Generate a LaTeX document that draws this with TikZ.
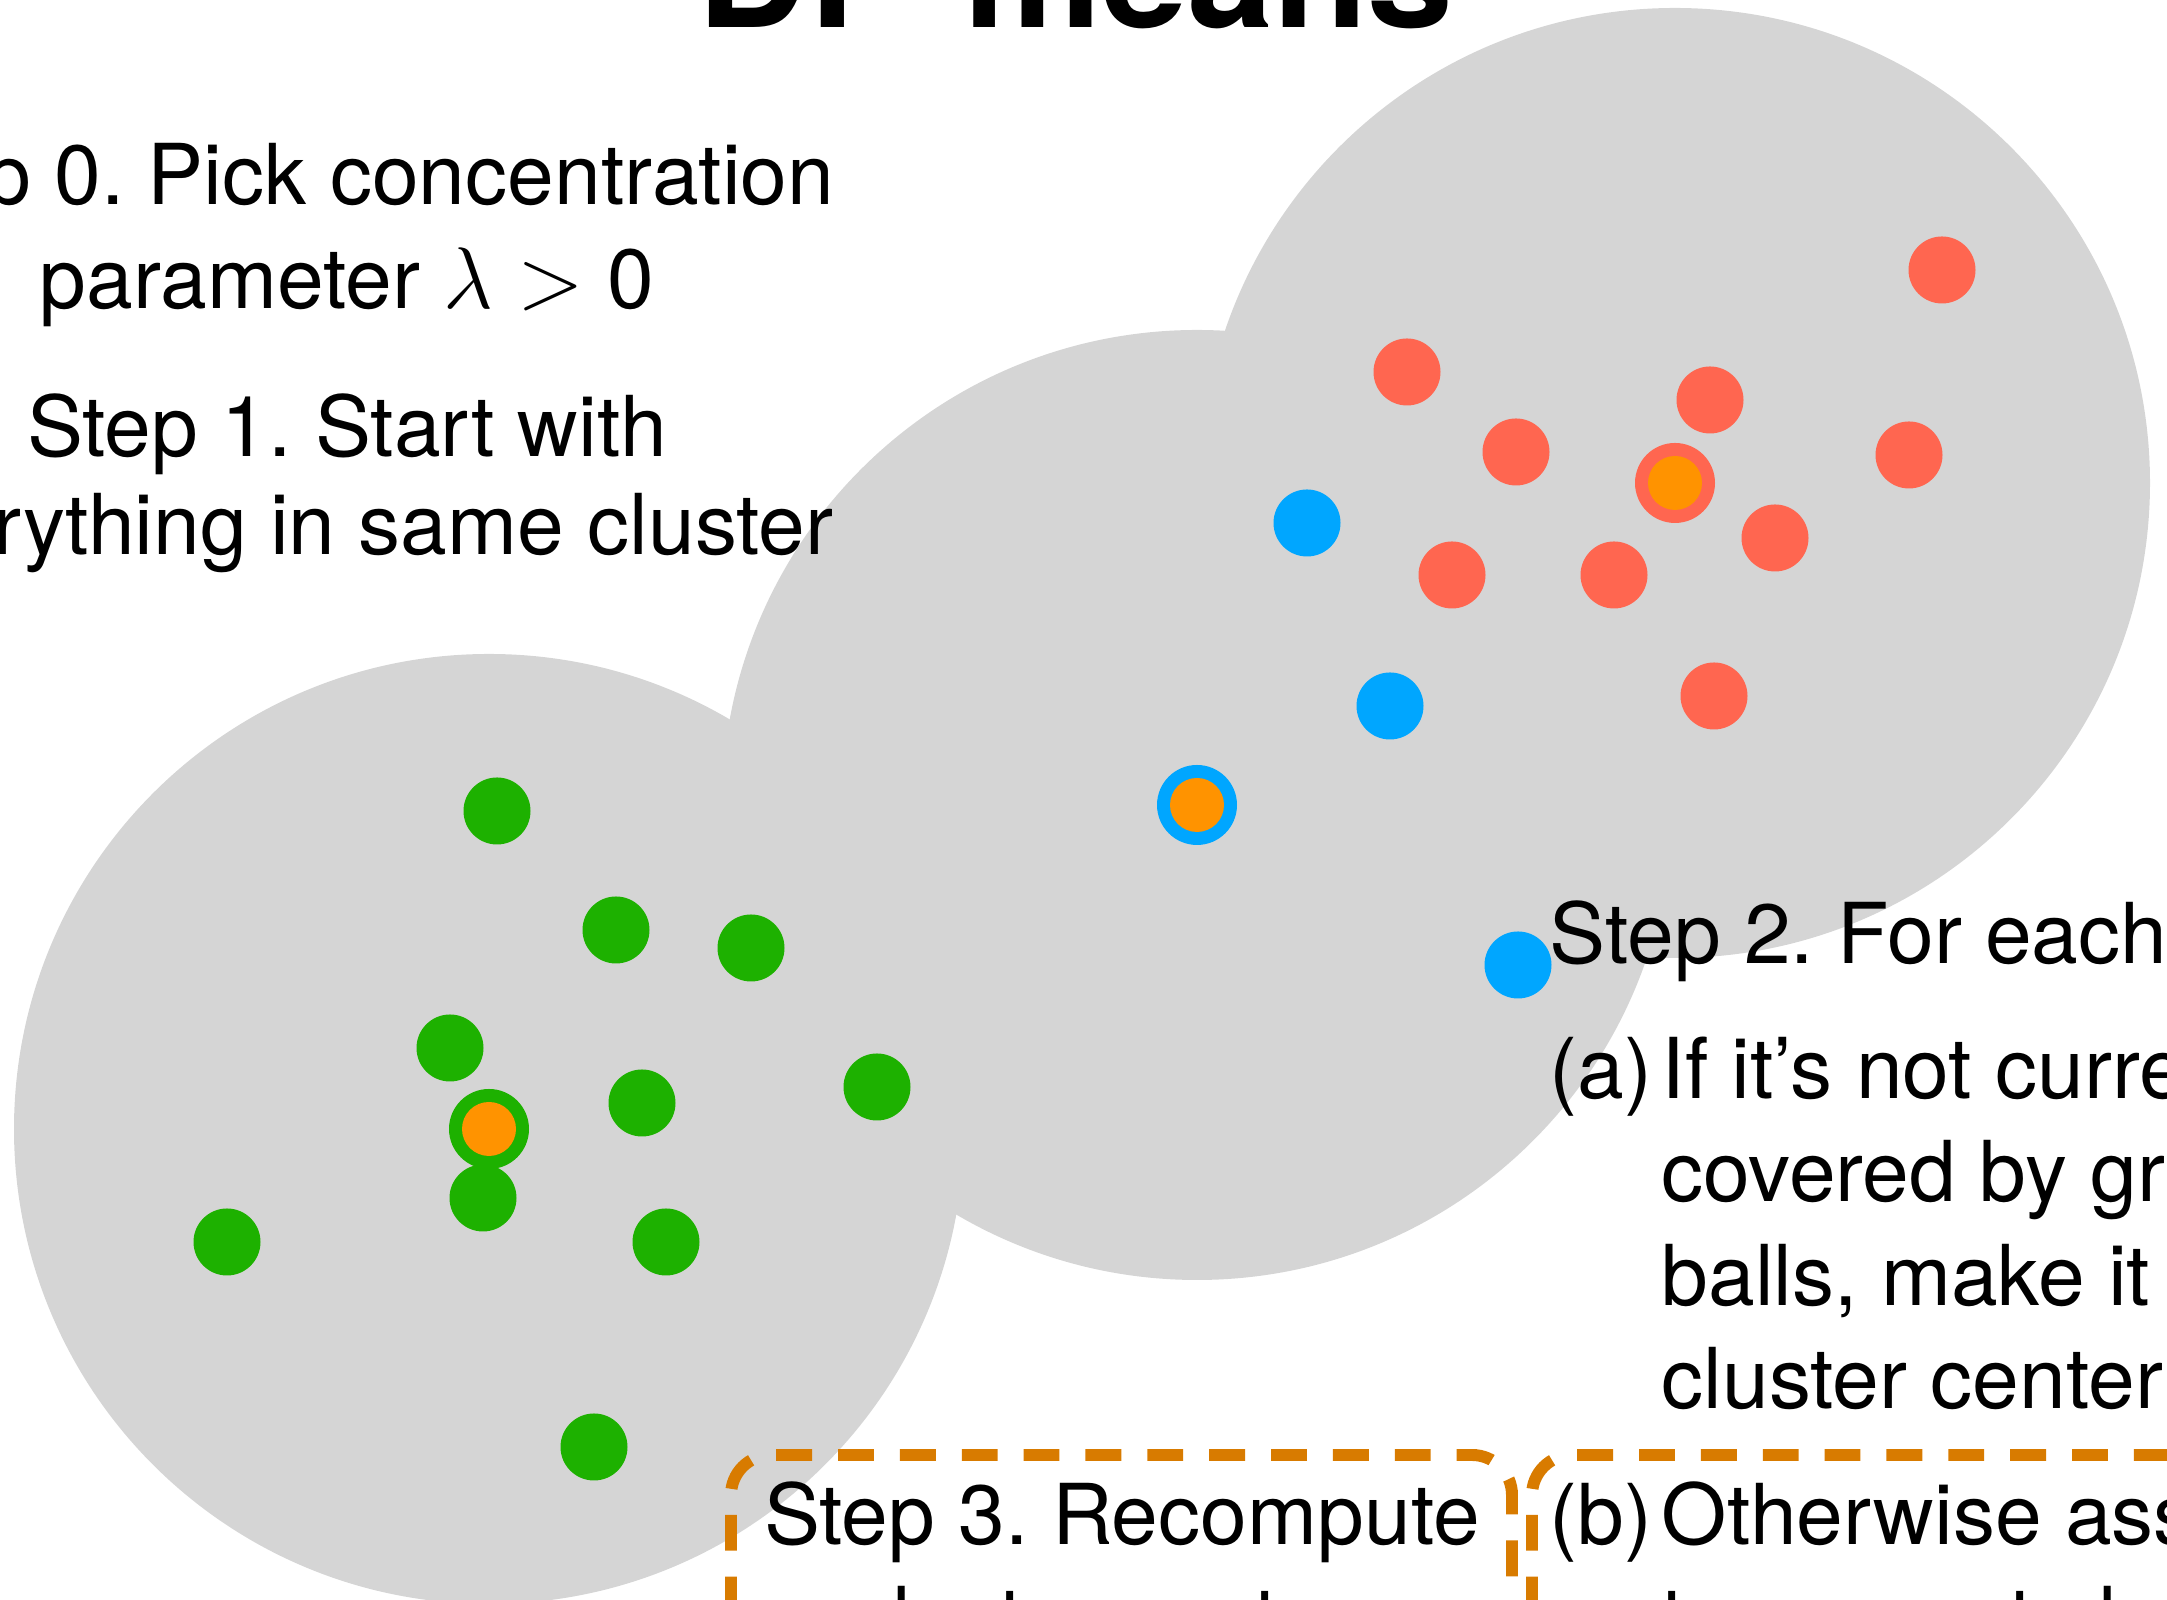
\documentclass[tikz,border=0pt]{standalone}
\usepackage{fontspec}
\setmainfont{TeX Gyre Heros}
\frenchspacing
\definecolor{ballgray}{RGB}{213,213,213}
\definecolor{ptred}{RGB}{255,102,80}
\definecolor{ptblue}{RGB}{0,166,255}
\definecolor{ptgreen}{RGB}{29,177,0}
\definecolor{ctrorange}{RGB}{255,147,0}
\definecolor{boxorange}{RGB}{216,123,0}

\begin{document}
\begin{tikzpicture}[
  txt/.style={inner sep=0pt, font=\fontsize{23.9}{28}\selectfont},
  stepbox/.style={draw=boxorange, line width=3.4pt, dash pattern=on 10.2pt off 7.4pt, rounded corners=0.4cm}]
\useasboundingbox (0,0) rectangle (21.67,16);
\clip (0,0) rectangle (21.67,16);

%gray balls
\fill[ballgray] (4.89,4.71) circle [radius=4.75];
\fill[ballgray] (11.97,7.95) circle [radius=4.75];
\fill[ballgray] (16.75,11.17) circle [radius=4.75];

%data points
\foreach \x/\y in {14.07/12.28, 19.42/13.30, 17.10/12.00, 15.16/11.48, 19.09/11.45, 17.75/10.62, 14.52/10.25, 16.14/10.25, 17.14/9.04}
  {\fill[ptred] (\x,\y) circle [radius=0.335];}
\foreach \x/\y in {13.07/10.77, 13.90/8.94, 15.18/6.35}
  {\fill[ptblue] (\x,\y) circle [radius=0.335];}
\foreach \x/\y in {4.97/7.89, 6.16/6.70, 7.51/6.52, 4.50/5.52, 6.42/4.97, 8.77/5.13, 4.83/4.02, 2.27/3.58, 6.66/3.58, 5.94/1.53}
  {\fill[ptgreen] (\x,\y) circle [radius=0.335];}

%cluster centers
\fill[ptgreen] (4.89,4.71) circle [radius=0.40]; \fill[ctrorange] (4.89,4.71) circle [radius=0.27];
\fill[ptblue] (11.97,7.95) circle [radius=0.40]; \fill[ctrorange] (11.97,7.95) circle [radius=0.27];
\fill[ptred] (16.75,11.17) circle [radius=0.40]; \fill[ctrorange] (16.75,11.17) circle [radius=0.27];

%title
\node[inner sep=0pt, anchor=base west, font=\fontsize{44}{50}\selectfont\bfseries] (title) at (6.97,15.72) {DP-means};

%steps 0 and 1
\node[txt, anchor=base] (s0a) at (3.47,13.95) {Step 0. Pick concentration};
\node[txt, anchor=base] (s0b) at (3.47,12.91) {parameter $\lambda >$ 0};
\node[txt, anchor=base] (s1a) at (3.47,11.43) {Step 1. Start with};
\node[txt, anchor=base] (s1b) at (3.47,10.45) {everything in same cluster};

%step 2
\node[txt, anchor=base west] (s2) at (15.49,6.36) {Step 2. For each data point:};
\node[txt, anchor=base west] (la) at (15.49,5.01) {(a)};
\node[txt, anchor=base west] (a1) at (16.61,5.01) {If it's not currently};
\node[txt, anchor=base west] (a2) at (16.61,3.98) {covered by gray};
\node[txt, anchor=base west] (a3) at (16.61,2.94) {balls, make it a new};
\node[txt, anchor=base west] (a4) at (16.61,1.91) {cluster center};
\node[txt, anchor=base west] (lb) at (15.49,0.55) {(b)};
\node[txt, anchor=base west] (b1) at (16.61,0.55) {Otherwise assign it};
\node[txt, anchor=base west] (b2) at (16.61,-0.48) {to nearest cluster center};

%step 3
\node[txt, anchor=base] (s3a) at (11.22,0.55) {Step 3. Recompute};
\node[txt, anchor=base] (s3b) at (11.22,-0.48) {cluster centers};

\draw[stepbox] (7.31,-3) rectangle (15.12,1.45);
\draw[stepbox] (15.32,-3) rectangle (24,1.45);
\end{tikzpicture}
\end{document}
